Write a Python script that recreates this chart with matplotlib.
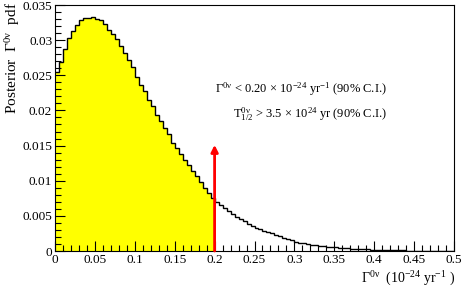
import numpy as np
import matplotlib
matplotlib.use("Agg")
import matplotlib.pyplot as plt
from matplotlib.ticker import MultipleLocator

plt.rcParams["font.family"] = ["Liberation Serif", "DejaVu Serif"]
plt.rcParams["mathtext.default"] = "regular"

# posterior pdf of the decay rate, 100 bins between 0 and 0.5 (10^-24 yr^-1)
x_min, x_max, n_bins = 0.0, 0.5, 100
pdf = [
    0.0255, 0.0269, 0.0287, 0.0303, 0.0313, 0.0322, 0.0328, 0.0331, 0.0332, 0.0333,
    0.0330, 0.0328, 0.0323, 0.0315, 0.0309, 0.0302, 0.0291, 0.0281, 0.0272, 0.0262,
    0.0248, 0.0236, 0.0228, 0.0215, 0.0206, 0.0194, 0.0185, 0.0175, 0.0166, 0.0154,
    0.0146, 0.0138, 0.0130, 0.0122, 0.0114, 0.0106, 0.0098, 0.0090, 0.0082, 0.0076,
    0.0070, 0.0066, 0.0061, 0.0057, 0.0052, 0.0049, 0.0045, 0.0042, 0.0039, 0.0036,
    0.0033, 0.0031, 0.0029, 0.0027, 0.0025, 0.0023, 0.0021, 0.0019, 0.0017, 0.0015,
    0.0013, 0.0012, 0.0011, 0.0010, 0.0009, 0.0008, 0.0007, 0.00065, 0.0006, 0.00055,
    0.0005, 0.00045, 0.0004, 0.00037, 0.00034, 0.0003, 0.00028, 0.00025, 0.00023, 0.0002,
    0.00018, 0.00016, 0.00014, 0.00013, 0.00011, 0.0001, 0.00009, 0.00008, 0.00007, 0.00006,
    0.00005, 0.00004, 0.00004, 0.00003, 0.00003, 0.00002, 0.00002, 0.00002, 0.00001, 0.00001,
]
limit = 0.20
limit_text = "$\u0393^{0\u03bd}$ < 0.20 \u00d7 10$^{-24}$ yr$^{-1}$ (90% C.I.)"
halflife_text = "$T^{0\u03bd}_{1/2}$ > 3.5 \u00d7 10$^{24}$ yr (90% C.I.)"

edges = np.linspace(x_min, x_max, n_bins + 1)
pdf = np.array(pdf)
n_fill = int(round((limit - x_min) / (edges[1] - edges[0])))

fig = plt.figure(figsize=(4.63, 2.96), dpi=100)
ax = fig.add_axes([55 / 463, 45 / 296, 399 / 463, 246 / 296])

ax.stairs(pdf[:n_fill], edges[:n_fill + 1], fill=True, color="#ffff00", lw=0)
ax.stairs(pdf, edges, color="black", lw=1, baseline=None)

ax.annotate("", xy=(limit, 0.0151), xytext=(limit, 0),
            arrowprops=dict(arrowstyle="-|>", color="red", lw=2,
                            mutation_scale=10, shrinkA=0, shrinkB=0))

ax.text(0.416, 0.0225, limit_text, ha="right", va="baseline", fontsize=9)
ax.text(0.416, 0.0190, halflife_text, ha="right", va="baseline", fontsize=9)

ax.set_xlim(x_min, x_max)
ax.set_ylim(0, 0.035)
ax.xaxis.set_major_locator(MultipleLocator(0.05))
ax.xaxis.set_minor_locator(MultipleLocator(0.01))
ax.yaxis.set_major_locator(MultipleLocator(0.005))
ax.yaxis.set_minor_locator(MultipleLocator(0.001))
ax.xaxis.set_major_formatter(lambda v, p: f"{v:g}")
ax.yaxis.set_major_formatter(lambda v, p: f"{v:g}")
ax.tick_params(which="both", direction="in", top=False, right=False, labelsize=9.5, pad=2)
ax.tick_params(which="major", length=7, width=0.8)
ax.tick_params(which="minor", length=4, width=0.8)
for s in ax.spines.values():
    s.set_linewidth(0.8)

fig.text(13 / 463, 294 / 296, "Posterior  $\u0393^{0\u03bd}$  pdf", rotation=90,
         ha="center", va="top", fontsize=11)
fig.text(455 / 463, 13 / 296, "$\u0393^{0\u03bd}$  (10$^{-24}$ yr$^{-1}$ )",
         ha="right", va="baseline", fontsize=10)

fig.savefig("out.png", dpi=100)
